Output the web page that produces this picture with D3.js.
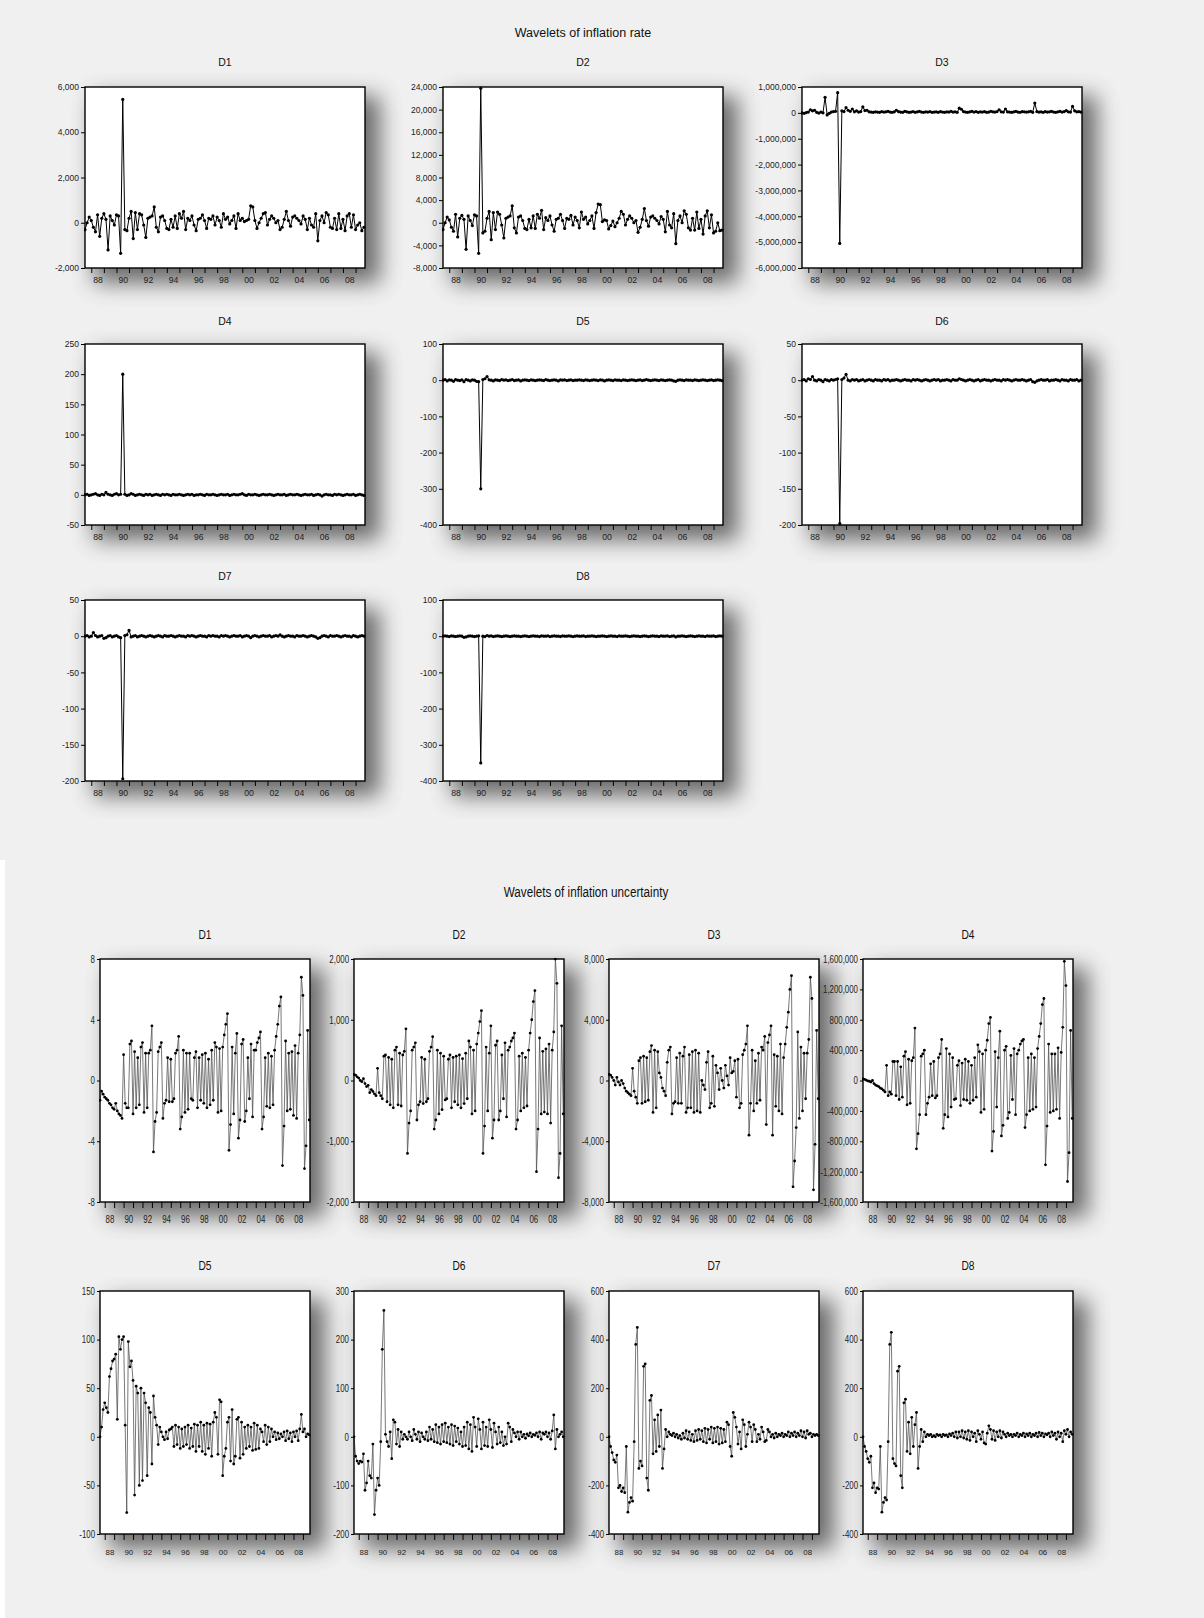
<!DOCTYPE html>
<html><head><meta charset="utf-8">
<script src="https://cdn.jsdelivr.net/npm/d3@7"></script>
<style>
body{margin:0;background:#f0f0f0;}
svg{display:block;}
</style></head><body>
<svg id="c" width="1204" height="1618"></svg>
<script>
// ---------- DATA ----------
const startYear = 1987.5;          // first observation (bimonthly sampling)
const stepYears = 1/6;
const xDomain = [1987.5, 2009.75];
const yearTicks = [1988,1989,1990,1991,1992,1993,1994,1995,1996,1997,1998,1999,2000,2001,2002,2003,2004,2005,2006,2007,2008,2009];
const labelYears = [1988,1990,1992,1994,1996,1998,2000,2002,2004,2006,2008];
const yearLabels = ["88","90","92","94","96","98","00","02","04","06","08"];

const titleTop = "Wavelets of inflation rate";
const titleBottom = "Wavelets of inflation uncertainty";
const panelTitles = ["D1","D2","D3","D4","D5","D6","D7","D8"];

// Wavelets of inflation rate
const rateD1 = [-300,0,250,100,-200,-400,350,-600,200,400,150,-1200,
 300,100,-100,350,300,-1350,5450,-300,-350,200,500,-700,
 450,-300,400,350,-100,-650,200,250,300,700,-200,-400,
 250,300,100,-250,-300,150,-200,300,-250,400,200,500,
 -300,200,100,300,-100,-350,150,200,350,100,-250,200,
 150,300,-100,250,100,-200,400,150,250,-50,100,300,
 -250,400,100,200,50,100,150,750,700,100,-250,0,
 200,400,450,-100,150,300,200,0,100,-300,-200,150,
 500,100,-150,250,300,200,100,-50,300,150,-300,200,
 -100,-200,400,-800,100,300,0,450,350,-200,-250,200,
 -300,400,-250,150,-350,300,400,-200,350,-300,-100,0,
 -350,-200];
const rateD2 = [-1200,0,1000,500,-800,-1500,1500,-2500,800,1300,600,-4700,
 1200,400,-500,1400,1200,-5400,23800,-1800,-1500,800,2000,-3000,
 1800,-1200,1900,1500,-400,-2700,800,1000,1200,3000,-900,-1800,
 1000,1200,400,-1000,-1200,600,-900,1200,-1000,1500,800,2200,
 -1200,900,400,1200,-400,-1500,600,800,1500,400,-1000,800,
 600,1300,-400,1000,400,-900,1900,600,1000,-200,400,1200,
 -1000,1800,3300,3200,200,500,400,-1100,-500,300,-700,0,
 800,2000,1500,-400,600,1200,800,0,400,-1700,-800,600,
 2500,400,-600,1000,1200,800,400,-200,1100,600,-1600,2000,
 -400,-900,1600,-3700,400,1200,0,2100,1500,-900,-1300,800,
 -1300,1900,-1000,600,-2000,1200,2100,-900,1400,-1800,-1500,0,
 -1400,-1300];
const rateD3 = [0,-20000,10000,30000,120000,80000,100000,20000,-10000,30000,0,600000,
 -80000,-20000,30000,50000,60000,780000,-5050000,80000,50000,200000,100000,60000,
 150000,40000,80000,30000,50000,230000,90000,100000,40000,30000,20000,40000,
 30000,20000,50000,30000,40000,60000,30000,20000,40000,100000,50000,30000,
 20000,60000,40000,20000,30000,50000,20000,40000,60000,30000,20000,40000,
 30000,50000,20000,30000,40000,20000,50000,30000,20000,40000,30000,60000,
 30000,40000,20000,180000,140000,50000,30000,20000,40000,60000,30000,50000,
 20000,40000,30000,50000,20000,30000,60000,40000,30000,50000,120000,40000,
 30000,150000,40000,30000,20000,40000,60000,30000,20000,50000,40000,30000,
 40000,60000,20000,380000,50000,30000,40000,20000,50000,30000,40000,60000,
 30000,20000,40000,60000,30000,50000,90000,40000,30000,250000,80000,40000,
 50000,30000];
const rateD4 = [0,1,-1,0,1,2,0,-1,1,0,4,1,0,-1,1,
 2,0,1,200,1,-1,0,2,1,-1,0,1,0,-1,1,
 0,1,-1,0,1,0,-1,1,0,1,0,-1,1,0,0,
 1,0,-1,0,1,0,1,-1,0,0,1,0,-1,1,0,
 0,1,0,-1,0,1,0,0,1,-1,0,1,0,0,1,
 2,0,-1,1,0,0,1,0,-1,0,1,0,0,1,0,
 -1,0,1,0,0,1,-1,0,1,0,0,1,0,-1,0,
 1,0,0,1,-1,0,1,0,-2,0,1,0,0,-1,1,
 0,1,0,-1,0,1,0,0,1,-1,0,1,0,-1];
const rateD5 = [0,2,-2,1,0,-3,2,0,-1,1,-4,2,0,-2,1,
 0,-3,-4,-300,2,4,10,1,0,-2,1,0,-1,2,0,
 1,-1,0,2,-1,0,1,-2,0,1,0,-1,1,0,-1,
 0,1,0,-1,2,0,-1,0,1,0,-2,1,0,1,-1,
 0,1,-1,0,0,1,0,-1,1,0,-1,0,1,0,-1,
 1,0,-2,0,1,0,-1,1,0,0,-1,1,0,-1,0,
 1,0,-1,0,1,-1,0,2,0,-1,0,1,0,-1,1,
 0,-1,0,1,0,-2,-3,0,1,0,-1,1,0,0,-1,
 1,0,-1,0,1,0,-1,0,1,-1,0,1,0,-1];
const rateD6 = [0,1,-1,2,1,5,0,-1,1,0,-2,1,0,-1,1,
 0,1,2,-198,1,3,8,0,-1,1,0,1,-1,0,1,
 -1,0,1,0,-1,1,0,0,-1,1,0,1,-1,0,0,
 1,0,-1,0,1,0,0,-1,1,0,1,0,-1,0,1,
 0,-1,0,1,0,1,-1,0,0,1,0,-1,1,0,0,
 2,1,0,-1,0,1,0,-1,0,1,-1,0,1,0,0,
 -1,0,1,0,0,-1,1,0,1,0,-1,0,1,0,0,
 1,0,-1,0,1,-2,-3,-1,0,1,0,0,1,-1,0,
 0,1,0,-1,1,0,0,-1,1,0,0,1,-1,0];
const rateD7 = [0,1,-1,0,5,1,-1,0,1,-3,-2,0,1,-1,0,
 1,-1,-2,-197,1,2,8,-1,0,1,-1,0,1,0,-1,
 0,1,0,-1,0,1,0,-1,1,0,0,1,0,-1,0,
 1,0,0,-1,1,0,1,0,-1,0,1,0,0,-1,1,
 0,1,0,0,-1,1,0,1,0,-1,0,1,0,0,1,
 -1,0,1,0,-2,0,1,0,-1,0,1,0,0,1,-1,
 0,1,0,2,0,-1,0,1,0,0,-1,1,0,0,1,
 0,-1,0,1,0,-1,-3,-2,0,1,0,-1,1,0,0,
 1,0,-1,0,1,0,0,-1,1,0,-1,0,1,0];
const rateD8 = [0,1,0,-1,1,0,-1,0,1,0,-3,-2,0,1,0,
 -1,0,1,-350,0,-1,2,0,1,-1,0,1,0,-1,0,
 1,0,-1,0,1,0,0,-1,0,1,0,-1,0,1,0,
 0,-1,1,0,0,1,-1,0,1,0,0,-1,1,0,0,
 1,0,-1,0,1,0,0,1,-1,0,0,1,0,-1,0,
 0,1,0,-1,0,1,0,0,-1,1,0,0,1,0,-1,
 0,1,0,0,-1,0,1,0,-1,0,1,0,0,-1,1,
 0,0,1,-1,0,1,-2,0,0,1,0,-1,0,1,0,
 -1,0,1,0,0,-1,1,0,0,1,-1,0,1,0];

const rateDomains = [[-2000,6000],[-8000,24000],[-6000000,1000000],[-50,250],[-400,100],[-200,50],[-200,50],[-400,100]];
const rateTicks = [
 [-2000,0,2000,4000,6000],
 [-8000,-4000,0,4000,8000,12000,16000,20000,24000],
 [-6000000,-5000000,-4000000,-3000000,-2000000,-1000000,0,1000000],
 [-50,0,50,100,150,200,250],
 [-400,-300,-200,-100,0,100],
 [-200,-150,-100,-50,0,50],
 [-200,-150,-100,-50,0,50],
 [-400,-300,-200,-100,0,100]];

// Wavelets of inflation uncertainty
const uncD1 = [-1.3,-0.7,-0.9,-1.1,-1.2,-1.3,-1.5,-1.6,-1.8,-1.9,-1.5,-2.0,-2.2,-2.3,-2.5,
 1.7,-1.5,-1.8,-1.8,2.4,2.6,-2.2,1.9,-1.8,1.5,-1.6,2.2,2.5,-2.1,1.8,
 -1.8,1.8,2.0,3.6,-4.7,-2.7,-2.1,1.9,2.2,2.5,-2.5,-1.5,-1.3,1.5,-1.4,
 1.4,-1.4,-1.2,1.8,2.0,2.9,-3.2,-2.4,2.0,-2.1,1.8,-1.9,1.8,-1.2,-1.3,
 1.5,1.9,-1.8,1.5,-1.3,1.7,-1.5,1.8,-1.8,1.4,-1.6,2.0,-1.3,2.5,2.2,
 -2.1,2.1,-2.0,2.2,3.0,3.7,4.4,-4.6,-2.9,2.2,-2.2,1.8,3.1,-3.8,-2.6,
 2.4,2.7,-2.7,-2.0,1.5,-1.2,2.4,-2.4,2.0,2.0,2.5,2.8,3.2,-3.2,-2.4,
 1.5,-1.7,1.8,-1.8,1.6,-1.6,2.0,2.9,3.7,4.9,5.5,-5.6,-3.0,2.6,-2.0,
 1.8,-1.9,1.9,-2.3,2.3,-2.5,1.8,3.0,6.8,5.6,-5.8,-4.3,3.3,-2.6];
const uncD2 = [100,90,60,40,0,-20,30,-50,-100,-80,-200,-150,-180,-220,-250,
 200,-200,-250,-300,400,420,-350,380,-400,350,-450,500,550,-400,450,
 -420,420,480,850,-1200,-700,-500,500,550,620,-650,-400,-350,380,-380,
 350,-350,-300,480,550,720,-800,-650,500,-550,450,-480,400,-320,-300,
 350,420,-450,380,-350,400,-400,420,-450,360,-380,450,-300,650,550,
 -550,500,-500,600,780,970,1150,-1200,-750,550,-500,450,900,-950,-650,
 580,650,-650,-500,420,-300,620,-600,500,550,650,700,780,-800,-650,
 400,-500,450,-450,380,-420,500,780,1000,1300,1480,-1500,-800,700,-550,
 480,-520,520,-550,600,-700,500,800,2000,1600,-1600,-1200,900,-550];
const uncD3 = [400,350,200,0,-300,200,-100,-300,0,-200,-500,-700,-800,-900,-1000,
 800,-700,-1100,-1500,1300,1500,-1500,1600,-1400,1500,-1300,1900,2300,-2100,2000,
 -1800,1900,500,200,-500,-700,-1000,1200,2000,2200,-2200,-1500,-1400,1500,-1500,
 1800,-1500,1600,2200,-2100,-1800,1700,-1800,1900,-2100,2000,-2000,1800,-2100,0,
 -300,-600,1200,1900,-1800,-1500,1600,-1700,1000,500,-600,800,0,-500,1000,
 300,-300,1500,500,600,1300,-1100,1400,-1800,-1500,1700,2000,2400,3600,-3600,
 -1500,2000,-2000,1300,-1500,1800,-1300,2200,2000,2900,-2900,2500,3000,3600,-3600,
 1700,-1700,1600,-2000,2400,-2200,1500,2400,3500,4500,6000,6900,-7000,-5300,-3100,
 3200,-2500,2200,-2000,1800,-1200,1800,2700,6800,5400,-7200,-4200,3300,-1200];
const uncD4 = [20000,15000,5000,-5000,-10000,-20000,0,-40000,-60000,-70000,-80000,-100000,-110000,-130000,-150000,
 200000,-200000,-150000,-180000,250000,250000,-200000,250000,-250000,180000,-220000,320000,380000,-320000,280000,
 -300000,260000,300000,690000,-900000,-700000,-450000,320000,350000,400000,-450000,-300000,-220000,220000,-200000,
 250000,-230000,-200000,300000,350000,540000,-630000,-450000,420000,-480000,350000,-350000,300000,-250000,-240000,
 200000,260000,-330000,230000,-250000,280000,-260000,250000,-300000,200000,-260000,300000,-220000,470000,380000,
 -420000,350000,-380000,400000,530000,750000,830000,-930000,-670000,380000,-350000,300000,650000,-730000,-590000,
 400000,450000,-500000,-420000,330000,-250000,420000,-450000,350000,400000,480000,520000,540000,-620000,-450000,
 300000,-400000,350000,-380000,300000,-350000,420000,580000,750000,1000000,1080000,-1110000,-600000,480000,-420000,
 350000,-400000,350000,-380000,430000,-500000,370000,700000,1570000,1250000,-1330000,-950000,660000,-500000];
const uncD5 = [0,10,28,35,30,25,62,70,78,80,85,18,103,90,100,
 103,12,-78,98,72,78,58,-60,52,45,-50,50,-45,45,35,
 -40,30,25,-28,42,20,12,-8,10,5,0,-3,5,-2,7,
 8,10,-10,12,-8,10,-12,8,-10,10,-8,12,-12,9,-10,
 13,-15,12,-10,15,-15,12,-18,14,-12,13,-20,15,25,20,
 -18,38,36,-40,-20,-12,15,20,-25,28,-28,-20,18,20,-22,
 15,-18,10,-12,12,-10,10,-14,14,-13,12,-12,8,5,-5,
 12,-8,10,-5,8,0,5,-3,4,-2,3,0,5,-4,6,
 -2,4,-5,5,0,6,-4,8,23,5,8,0,3,2];
const uncD6 = [0,-40,-50,-55,-50,-52,-35,-110,-95,-50,-80,-85,-15,-160,-110,
 -85,-100,-10,180,260,5,-10,-20,10,-45,35,30,-15,15,-20,
 10,-5,5,0,-5,10,0,-8,15,5,-5,10,-10,8,0,
 -5,10,-8,20,-5,15,-10,25,-12,20,-15,25,-10,28,-12,
 20,-15,25,-18,22,-10,18,-15,10,-20,20,-18,30,-25,25,
 -30,40,20,-20,37,15,-25,30,-18,20,-20,35,15,-22,28,
 10,-15,20,-12,10,-18,0,-15,28,20,-10,15,8,0,10,
 -5,10,0,5,-3,6,2,8,0,5,3,8,0,10,-5,
 8,5,10,0,8,-5,12,45,-25,15,0,5,10,0];
const uncD7 = [0,-40,-65,-95,-105,-75,-210,-200,-225,-210,-230,-40,-310,-270,-250,
 -265,-20,380,450,-130,-100,-120,290,300,-170,-220,150,170,-70,70,
 -60,90,-40,110,-130,-50,30,0,20,10,5,15,0,10,-5,
 5,-10,15,-5,25,-10,20,-15,10,-20,25,-15,30,-10,25,
 -20,35,-25,30,-10,40,-25,35,-20,40,-30,35,-25,30,-20,
 60,50,-40,-80,100,80,40,-30,20,-50,70,50,-40,10,60,
 40,-20,50,30,-20,10,-10,40,20,-20,-15,30,20,0,10,
 -5,15,0,10,5,15,0,10,5,20,0,15,5,20,0,
 15,5,25,0,20,-5,25,10,15,0,10,5,10,5];
const uncD8 = [0,-40,-60,-90,-105,-80,-210,-190,-230,-210,-215,-40,-310,-270,-250,
 -260,-20,380,430,-90,-110,-120,270,290,-160,-210,140,155,-60,60,
 -70,80,-40,50,100,-130,-40,30,-20,20,0,10,5,10,0,
 5,0,10,5,8,0,10,5,8,0,12,5,15,0,20,
 -5,20,0,25,-5,20,-10,25,-15,20,0,15,-20,25,10,
 -10,20,-25,-30,15,45,30,-10,25,-15,20,0,25,-5,20,
 10,0,15,5,10,0,10,5,15,0,10,5,15,0,12,
 5,15,0,10,5,15,0,18,5,15,0,12,8,15,0,
 20,5,15,-10,20,0,15,-20,25,10,30,0,20,10];

const uncDomains = [[-8,8],[-2000,2000],[-8000,8000],[-1600000,1600000],[-100,150],[-200,300],[-400,600],[-400,600]];
const uncTicks = [
 [-8,-4,0,4,8],
 [-2000,-1000,0,1000,2000],
 [-8000,-4000,0,4000,8000],
 [-1600000,-1200000,-800000,-400000,0,400000,800000,1200000,1600000],
 [-100,-50,0,50,100,150],
 [-200,-100,0,100,200,300],
 [-400,-200,0,200,400,600],
 [-400,-200,0,200,400,600]];

const rateSeries = [rateD1,rateD2,rateD3,rateD4,rateD5,rateD6,rateD7,rateD8];
const uncSeries = [uncD1,uncD2,uncD3,uncD4,uncD5,uncD6,uncD7,uncD8];

// ---------- DRAW ----------
const FONT = "'Liberation Sans', Arial, sans-serif";
const fmt = d3.formatLocale({decimal:".",thousands:",",grouping:[3],currency:["$",""],minus:"-"}).format(",");
const svg = d3.select("#c");
svg.append("rect").attr("width",1204).attr("height",1618).attr("fill","#f0f0f0");
svg.append("rect").attr("x",0).attr("y",860).attr("width",5).attr("height",758).attr("fill","#ffffff");

const defs = svg.append("defs");
const f = defs.append("filter").attr("id","blur").attr("x","-50%").attr("y","-50%").attr("width","200%").attr("height","200%");
f.append("feGaussianBlur").attr("stdDeviation",11);

const shadowLayer = svg.append("g");
const panelLayer = svg.append("g");
let clipN = 0;

function squeeze(sel, sx, sy){
  sel.each(function(){
    const t = d3.select(this);
    const x = +t.attr("x")||0, y = +t.attr("y")||0;
    t.attr("x",0).attr("y",0).attr("transform",`translate(${x},${y}) scale(${sx},${sy})`);
  });
}

function drawPanel(p){
  shadowLayer.append("rect").attr("x",p.x+9).attr("y",p.y+9).attr("width",p.w+6).attr("height",p.h+6)
    .attr("fill","#4a4a4a").attr("opacity",0.8).attr("filter","url(#blur)");
  const g = panelLayer.append("g").attr("transform",`translate(${p.x},${p.y})`);
  const xs = d3.scaleLinear().domain(xDomain).range([0,p.w]);
  const ys = d3.scaleLinear().domain(p.domain).range([p.h,0]);
  g.append("rect").attr("width",p.w).attr("height",p.h).attr("fill","#fff");
  const cid = "clip"+(clipN++);
  g.append("clipPath").attr("id",cid).append("rect").attr("x",-1).attr("y",-1).attr("width",p.w+2).attr("height",p.h+2);
  const pts = p.values.map((v,i)=>[startYear+i*stepYears, v]);
  const gd = g.append("g").attr("clip-path",`url(#${cid})`);
  gd.append("path").datum(pts)
    .attr("d", d3.line().x(d=>xs(d[0])).y(d=>ys(d[1])))
    .attr("fill","none").attr("stroke",p.lineColor).attr("stroke-width",p.lw);
  gd.selectAll("circle").data(pts).join("circle")
    .attr("cx",d=>xs(d[0])).attr("cy",d=>ys(d[1])).attr("r",p.r).attr("fill","#000");
  g.append("rect").attr("width",p.w).attr("height",p.h).attr("fill","none").attr("stroke","#000").attr("stroke-width",1.4);

  const ya = g.append("g").attr("color","#000")
    .call(d3.axisLeft(ys).tickValues(p.ticks).tickFormat(fmt).tickSize(p.tickLen).tickPadding(p.pad));
  ya.select(".domain").remove();
  ya.selectAll("text").attr("font-size",p.fs).attr("font-family",FONT).attr("fill","#222");
  if (p.sx) squeeze(ya.selectAll("text"), p.sx, 1);

  const xa = g.append("g").attr("color","#000").attr("transform",`translate(0,${p.h})`)
    .call(d3.axisBottom(xs).tickValues(yearTicks).tickFormat("").tickSize(p.xTickLen));
  xa.select(".domain").remove();
  const xl = g.append("g").attr("transform",`translate(0,${p.h})`)
    .call(d3.axisBottom(xs).tickValues(labelYears.map(y=>y+0.5)).tickFormat((d,i)=>yearLabels[i]).tickSize(0).tickPadding(p.xPad));
  xl.select(".domain").remove();
  xl.selectAll("text").attr("font-size",p.xfs).attr("font-family",FONT).attr("fill","#222");
  if (p.sx) squeeze(xl.selectAll("text"), p.sx, p.xsy || 1);

  const t = panelLayer.append("text").attr("x",p.x+p.w/2).attr("y",p.titleY)
    .attr("text-anchor","middle").attr("font-size",p.tfs).attr("font-family",FONT).attr("fill","#111").text(p.title);
  if (p.sx) squeeze(t, 0.85, 1);
}

// Top section: inflation rate (3 columns)
const topCols = [85, 443, 802];
const topRows = [87, 344, 600];
const topTitleY = [66, 325, 580];
rateSeries.forEach((vals,k)=>{
  const c = k%3, r = Math.floor(k/3);
  drawPanel({x:topCols[c], y:topRows[r], w:280, h:181, values:vals, domain:rateDomains[k], ticks:rateTicks[k],
    title:panelTitles[k], titleY:topTitleY[r], tfs:10.5, fs:8.5, xfs:8.7, tickLen:4, pad:2, xTickLen:5, xPad:9,
    lineColor:"#000", lw:1, r:1.6});
});
svg.append("text").attr("x",583).attr("y",37).attr("text-anchor","middle").attr("font-size",12.5)
  .attr("font-family",FONT).attr("fill","#111").text(titleTop);

// Bottom section: inflation uncertainty (4 columns)
const botCols = [100, 354, 609, 863];
const botRows = [959, 1291];
const botTitleY = [939, 1270];
uncSeries.forEach((vals,k)=>{
  const c = k%4, r = Math.floor(k/4);
  drawPanel({x:botCols[c], y:botRows[r], w:210, h:243, values:vals, domain:uncDomains[k], ticks:uncTicks[k],
    title:panelTitles[k], titleY:botTitleY[r], tfs:12, fs:10.5, xfs:10.5, tickLen:3, pad:2, xTickLen:6,
    xPad: r===0 ? 14 : 17, xsy: r===0 ? 1 : 0.6, sx:0.75,
    lineColor:"#555", lw:0.8, r:1.4});
});
const bt = svg.append("text").attr("x",586).attr("y",897).attr("text-anchor","middle").attr("font-size",15)
  .attr("font-family",FONT).attr("fill","#111").text(titleBottom);
squeeze(bt, 0.78, 1);
</script>
</body></html>
